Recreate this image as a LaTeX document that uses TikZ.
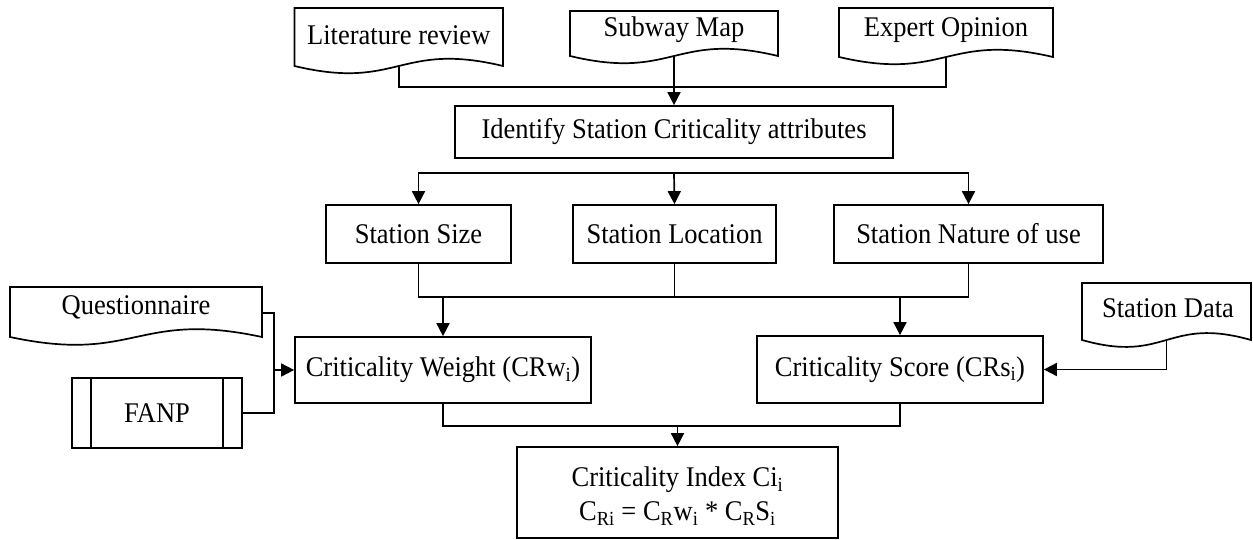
\documentclass[tikz,border=0pt]{standalone}
\usepackage{fontspec}
\setmainfont{Liberation Serif}[FakeStretch=0.93]
\usetikzlibrary{arrows.meta}

\begin{document}
\begin{tikzpicture}[x=1pt, y=-1pt,
  every node/.style={font=\fontsize{28.5}{34}\selectfont, inner sep=0pt},
  line/.style={draw=black, line width=1.7pt},
  arrow/.style={line, -{Triangle[length=13pt, width=13pt]}},
  box/.style={draw=black, line width=1.7pt, rectangle, align=center},
  docshape/.style={draw=black, line width=1.7pt, fill=white},
  label/.style={align=center}
]
\fill[white] (0,0) rectangle (1253,540);
\useasboundingbox (0,0) rectangle (1253,540);

% ---- document shapes (wavy bottom edge) ----
\draw[docshape] (294.5,66) -- (294.5,8) -- (503,8) -- (503,66)
  .. controls (398.75,41) and (398.75,91) .. (294.5,66) -- cycle;
\node[label] (lit) at (398.75,35) {Literature review};
\coordinate (lit-b) at (398.75,66);

\draw[docshape] (570,56) -- (570,11) -- (778,11) -- (778,56)
  .. controls (674,31) and (674,81) .. (570,56) -- cycle;
\node[label] (sub) at (674,30) {Subway Map};
\coordinate (sub-b) at (674,56);

\draw[docshape] (839,57) -- (839,8) -- (1053,8) -- (1053,57)
  .. controls (946,32) and (946,82) .. (839,57) -- cycle;
\node[label] (exp) at (946,30) {Expert Opinion};
\coordinate (exp-b) at (946,57);

\draw[docshape] (10,337) -- (10,287) -- (262,287) -- (262,337)
  .. controls (136,310) and (136,364) .. (10,337) -- cycle;
\node[label] (quest) at (136,307) {Questionnaire};
\coordinate (quest-r) at (262,313);

\draw[docshape] (1082,340) -- (1082,283) -- (1251,283) -- (1251,340)
  .. controls (1166.5,316) and (1166.5,364) .. (1082,340) -- cycle;
\node[label] (sdata) at (1168,308) {Station Data};
\coordinate (sdata-b) at (1166.5,340);

% ---- process boxes ----
\node[box, minimum width=438pt, minimum height=52pt] (ident) at (674,132)
  {Identify Station Criticality attributes};
\node[box, minimum width=185pt, minimum height=58pt] (size) at (418.5,234) {Station Size};
\node[box, minimum width=203pt, minimum height=58pt] (loc) at (674.5,234) {Station Location};
\node[box, minimum width=269pt, minimum height=58pt] (nature) at (968.5,234) {Station Nature of use};
\node[box, minimum width=296pt, minimum height=66pt] (weight) at (443,370)
  {Criticality Weight (CRw\textsubscript{i})};
\node[box, minimum width=286pt, minimum height=67pt] (score) at (900,369.5)
  {Criticality Score (CRs\textsubscript{i})};
\node[box, minimum width=170pt, minimum height=70pt] (fanp) at (157,413) {FANP};
\draw[line] ([xshift=20pt]fanp.north west) -- ([xshift=20pt]fanp.south west);
\draw[line] ([xshift=-20pt]fanp.north east) -- ([xshift=-20pt]fanp.south east);
\node[box, minimum width=321pt, minimum height=91pt] (index) at (677.5,492.5) {};
\node[label] (index-text) at (677.5,496)
  {Criticality Index Ci\textsubscript{i}\\
   C\textsubscript{Ri} = C\textsubscript{R}w\textsubscript{i} * C\textsubscript{R}S\textsubscript{i}};

% ---- junction points ----
\coordinate (bar1) at (674,87);
\coordinate (bar2) at (674,173);
\coordinate (bar3) at (674.5,297);
\coordinate (bar4) at (677.5,426);
\coordinate (qjoin) at (274,370);

% ---- connectors ----
\draw[line] (lit-b) |- (bar1) -| (exp-b);
\draw[arrow] (sub-b) -- (ident.north);

\draw[arrow] (bar2) -| (size.north);
\draw[arrow] (bar2) -- (loc.north);
\draw[arrow] (bar2) -| (nature.north);

\draw[line] (size.south) |- (bar3) -| (nature.south);
\draw[line] (loc.south) -- (bar3);
\draw[arrow] (weight.north |- bar3) -- (weight.north);
\draw[arrow] (score.north |- bar3) -- (score.north);

\draw[line] (quest-r) -| (qjoin) |- (fanp.east);
\draw[arrow] (qjoin) -- (weight.west);
\draw[arrow] (sdata-b) |- (score.east);

\draw[line] (weight.south) |- (bar4) -| (score.south);
\draw[arrow] (bar4) -- (index.north);
\end{tikzpicture}
\end{document}
